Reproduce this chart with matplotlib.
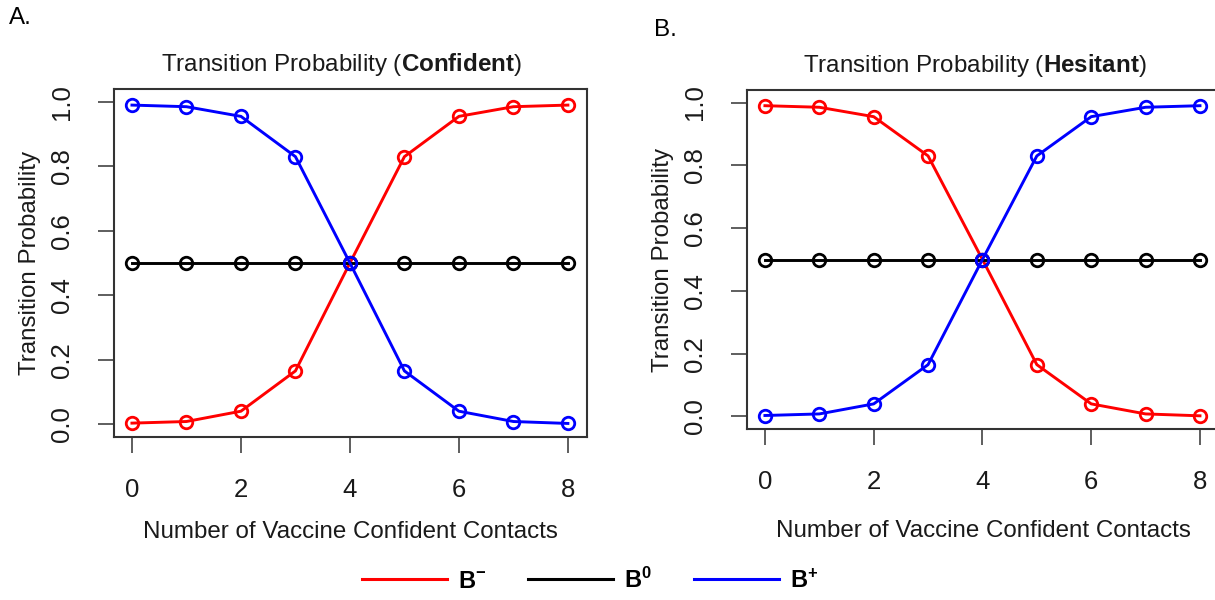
import matplotlib
matplotlib.use("Agg")
import matplotlib.pyplot as plt

plt.rcParams["font.family"] = ["Liberation Sans", "DejaVu Sans"]
plt.rcParams["mathtext.fontset"] = "custom"
plt.rcParams["mathtext.rm"] = "Liberation Sans"
plt.rcParams["mathtext.bf"] = "Liberation Sans:bold"

contacts = [0, 1, 2, 3, 4, 5, 6, 7, 8]

# transition probabilities for a confident individual
conf_minus = [0.003, 0.008, 0.04, 0.165, 0.5, 0.83, 0.955, 0.985, 0.99]
conf_zero = [0.5, 0.5, 0.5, 0.5, 0.5, 0.5, 0.5, 0.5, 0.5]
conf_plus = [0.99, 0.985, 0.955, 0.83, 0.5, 0.165, 0.04, 0.008, 0.002]

# transition probabilities for a hesitant individual
hes_minus = [0.99, 0.985, 0.955, 0.83, 0.5, 0.165, 0.04, 0.008, 0.002]
hes_zero = [0.5, 0.5, 0.5, 0.5, 0.5, 0.5, 0.5, 0.5, 0.5]
hes_plus = [0.003, 0.008, 0.04, 0.165, 0.5, 0.83, 0.955, 0.985, 0.99]

x_ticks = [0, 2, 4, 6, 8]
y_ticks = [0.0, 0.2, 0.4, 0.6, 0.8, 1.0]
legend_labels = [r"$\mathbf{B^{-}}$", r"$\mathbf{B^{0}}$", r"$\mathbf{B^{+}}$"]

fig = plt.figure(figsize=(12.15, 6), dpi=100)
ax1 = fig.add_axes([0.0938, 0.2717, 0.3893, 0.58])
ax2 = fig.add_axes([0.6148, 0.285, 0.3885, 0.565])


def draw_panel(ax, minus, zero, plus, title, xpad):
    for vals, col in [(minus, "red"), (zero, "black"), (plus, "blue")]:
        ax.plot(contacts, vals, color=col, lw=2.1, marker="o", ms=9,
                mfc="none", mec=col, mew=2.0)
    ax.set_xlim(-0.33, 8.35)
    ax.set_ylim(-0.04, 1.04)
    ax.set_xticks(x_ticks)
    ax.set_yticks(y_ticks)
    ax.set_yticklabels([f"{v:.1f}" for v in y_ticks], rotation=90, va="center")
    ax.tick_params(axis="both", direction="out", length=11.5, width=1.1,
                   color="#333333", labelsize=18.5, labelcolor="#1a1a1a")
    ax.tick_params(axis="y", pad=17)
    ax.tick_params(axis="x", pad=18)
    for s in ax.spines.values():
        s.set_linewidth(1.5)
        s.set_color("#333333")
    ax.set_xlabel("Number of Vaccine Confident Contacts", fontsize=17.4,
                  color="#1a1a1a", labelpad=xpad)
    ax.set_ylabel("Transition Probability", fontsize=17.4, color="#1a1a1a",
                  labelpad=7)
    t = ax.set_title(title, fontsize=17.4, color="#1a1a1a", pad=13)
    t.set_x(0.482)


draw_panel(ax1, conf_minus, conf_zero, conf_plus,
           r"Transition Probability ($\mathbf{Confident}$)", 14)
draw_panel(ax2, hes_minus, hes_zero, hes_plus,
           r"Transition Probability ($\mathbf{Hesitant}$)", 19)

fig.text(20 / 1215, 1 - 18 / 600, "A.", fontsize=17.4, ha="center", va="center")
fig.text(665 / 1215, 1 - 30 / 600, "B.", fontsize=17.4, ha="center", va="center")

handles = [plt.Line2D([], [], color=c, lw=2.2) for c in ["red", "black", "blue"]]
fig.legend(handles, legend_labels, loc="center", ncol=3, frameon=False,
           bbox_to_anchor=(590 / 1215, 1 - 580 / 600), fontsize=17,
           handlelength=3.6, handletextpad=0.45, columnspacing=1.8)

fig.savefig("out.png", dpi=100)
